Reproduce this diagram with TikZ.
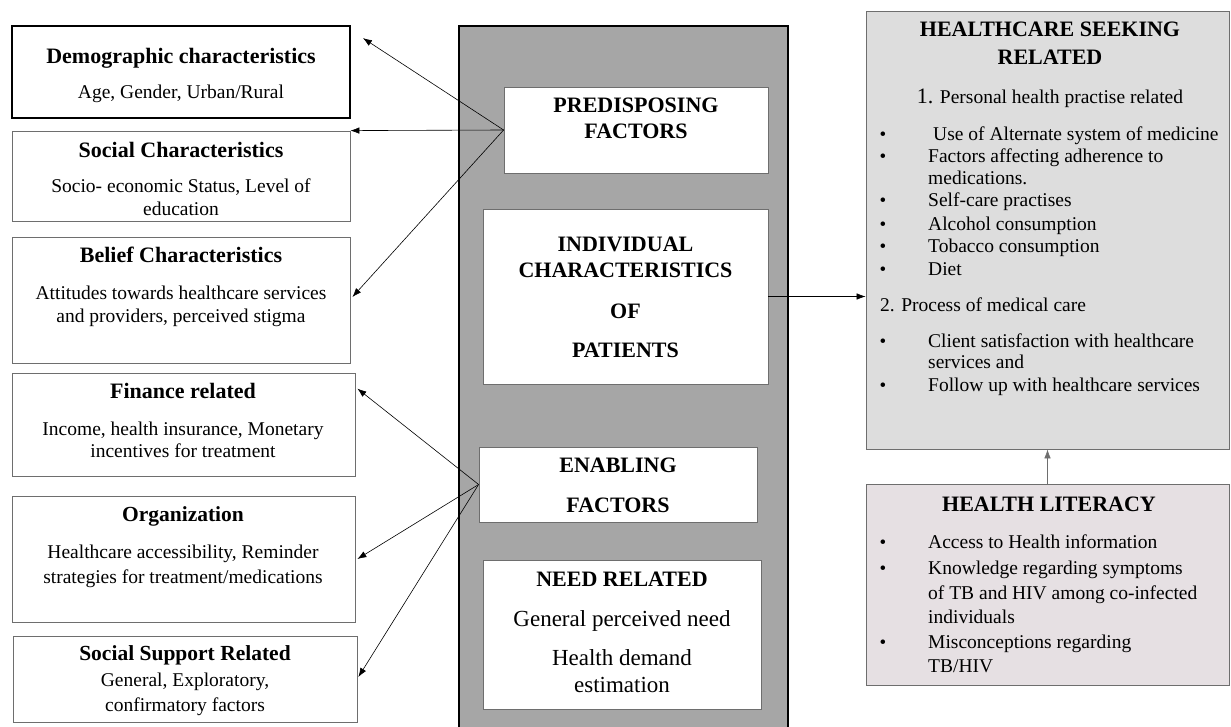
\documentclass[tikz,border=0pt]{standalone}
\usepackage{fontspec}
\setmainfont{Liberation Serif}
\usetikzlibrary{arrows.meta,fit}
\definecolor{midgray}{HTML}{A6A6A6}
\definecolor{hcsgray}{HTML}{DDDDDD}
\definecolor{hlpink}{HTML}{E6E0E3}
\definecolor{edgegray}{HTML}{6E6E6E}
\newcommand\HdF{\fontsize{22}{24}\selectfont\bfseries}
\newcommand\BdF{\fontsize{19.5}{22}\selectfont}
\begin{document}
\begin{tikzpicture}[x=1pt,y=-1pt,
  box/.style={draw=edgegray, line width=0.8pt, fill=white, inner sep=0pt},
  hd/.style={inner sep=0pt, anchor=base, font=\HdF},
  bd/.style={inner sep=0pt, anchor=base, font=\BdF},
  li/.style={inner sep=0pt, anchor=base west, font=\BdF},
  bul/.style={inner sep=0pt, anchor=base, font=\fontsize{19}{21}\selectfont},
  arr/.style={-{Latex[length=9pt,width=6.5pt]}, line width=0.6pt},
]
\useasboundingbox (0,0) rectangle (1231,727);
% central column
\node[fit={(459,26) (788,740)}, draw=black, line width=2pt, fill=midgray, inner sep=0pt] (col) {};
% left boxes
\node[box, draw=black, line width=1.8pt, fit={(12,26) (350,118)}] (demo) {};
\node[box, fit={(12,131) (350,221)}] (soc) {};
\node[box, fit={(12,237) (350,363)}] (bel) {};
\node[box, fit={(12,373) (355,476)}] (fin) {};
\node[box, fit={(12,496) (355,622)}] (org) {};
\node[box, fit={(13,636) (357,722)}] (ssr) {};
% middle boxes
\node[box, fit={(504,87) (768,173)}] (pre) {};
\node[box, fit={(483,209) (768,384)}] (ind) {};
\node[box, fit={(479,447) (757,522)}] (ena) {};
\node[box, fit={(483,560) (761,709)}] (need) {};
% right boxes
\node[box, fill=hcsgray, fit={(866,11) (1229,449)}] (hcs) {};
\node[box, fill=hlpink, fit={(866,484) (1229,685)}] (hl) {};

% left texts
\node[hd] at (181,64) {Demographic characteristics};
\node[bd] at (181,99) {Age, Gender, Urban/Rural};
\node[hd] at (181,158) {Social Characteristics};
\node[bd] at (181,193) {Socio- economic Status, Level of};
\node[bd] at (181,216) {education};
\node[hd] at (181,263) {Belief Characteristics};
\node[bd] at (181,299) {Attitudes towards healthcare services};
\node[bd] at (181,322) {and providers, perceived stigma};
\node[hd] at (183,398) {Finance related};
\node[bd] at (183,435) {Income, health insurance, Monetary};
\node[bd] at (183,457) {incentives for treatment};
\node[hd, font=\fontsize{21.5}{24}\selectfont\bfseries] at (183,521) {Organization};
\node[bd] at (183,558) {Healthcare accessibility, Reminder};
\node[bd] at (183,583) {strategies for treatment/medications};
\node[hd, font=\fontsize{21.5}{24}\selectfont\bfseries] at (185,660) {Social Support Related};
\node[bd] at (185,686) {General, Exploratory,};
\node[bd] at (185,711) {confirmatory factors};

% middle texts
\node[hd] at (pre.center |- 0,113) {PREDISPOSING};
\node[hd] at (pre.center |- 0,139) {FACTORS};
\node[hd] at (ind.center |- 0,252) {INDIVIDUAL};
\node[hd] at (ind.center |- 0,278) {CHARACTERISTICS};
\node[hd] at (ind.center |- 0,318) {OF};
\node[hd] at (ind.center |- 0,357) {PATIENTS};
\node[hd] at (ena.center |- 0,472) {ENABLING};
\node[hd] at (ena.center |- 0,512) {FACTORS};
\node[hd] at (need.center |- 0,586) {NEED RELATED};
\node[bd, font=\fontsize{23}{25}\selectfont] at (need.center |- 0,626) {General perceived need};
\node[bd, font=\fontsize{23}{25}\selectfont] at (need.center |- 0,665) {Health demand};
\node[bd, font=\fontsize{23}{25}\selectfont] at (need.center |- 0,692) {estimation};

% right texts
\node[hd] at (1050,37) {HEALTHCARE SEEKING};
\node[hd] at (1050,65) {RELATED};
\node[bd] at (1050,104) {{\fontsize{22}{24}\selectfont 1.} Personal health practise related};
\foreach \yy in {141,163,207,231,253,276,347,391}
  \node[bul] at (883,\yy) {\textbullet};
\node[li] at (933,141) {Use of Alternate system of medicine};
\node[li] at (928,163) {Factors affecting adherence to};
\node[li] at (928,185) {medications.};
\node[li] at (928,207) {Self-care practises};
\node[li] at (928,231) {Alcohol consumption};
\node[li] at (928,253) {Tobacco consumption};
\node[li] at (928,276) {Diet};
\node[li] at (880,311) {2. Process of medical care};
\node[li] at (928,347) {Client satisfaction with healthcare};
\node[li] at (928,368) {services and};
\node[li] at (928,391) {Follow up with healthcare services};

\node[hd] at (1049,511) {HEALTH LITERACY};
\foreach \yy in {548,574,648}
  \node[bul] at (883,\yy) {\textbullet};
\node[li] at (928,548) {Access to Health information};
\node[li] at (928,574) {Knowledge regarding symptoms};
\node[li] at (928,599) {of TB and HIV among co-infected};
\node[li] at (928,623) {individuals};
\node[li] at (928,648) {Misconceptions regarding};
\node[li] at (928,672) {TB/HIV};

% connectors
\draw[arr] (pre.west) -- ([shift={(12,13)}]demo.north east);
\draw[arr] (pre.west) -- (soc.north east);
\draw[arr] (pre.west) -- ([shift={(2,-3)}]bel.east);
\draw[arr] (ena.west) -- ([shift={(2,16)}]fin.north east);
\draw[arr] (ena.west) -- ([shift={(2,0)}]org.east);
\draw[arr] (ena.west) -- ([shift={(1,-2)}]ssr.east);
\draw[arr] (ind.east) -- (ind.east -| hcs.west);
\draw[arr, draw=edgegray] (hl.north) -- (hl.north |- hcs.south);
\end{tikzpicture}
\end{document}
